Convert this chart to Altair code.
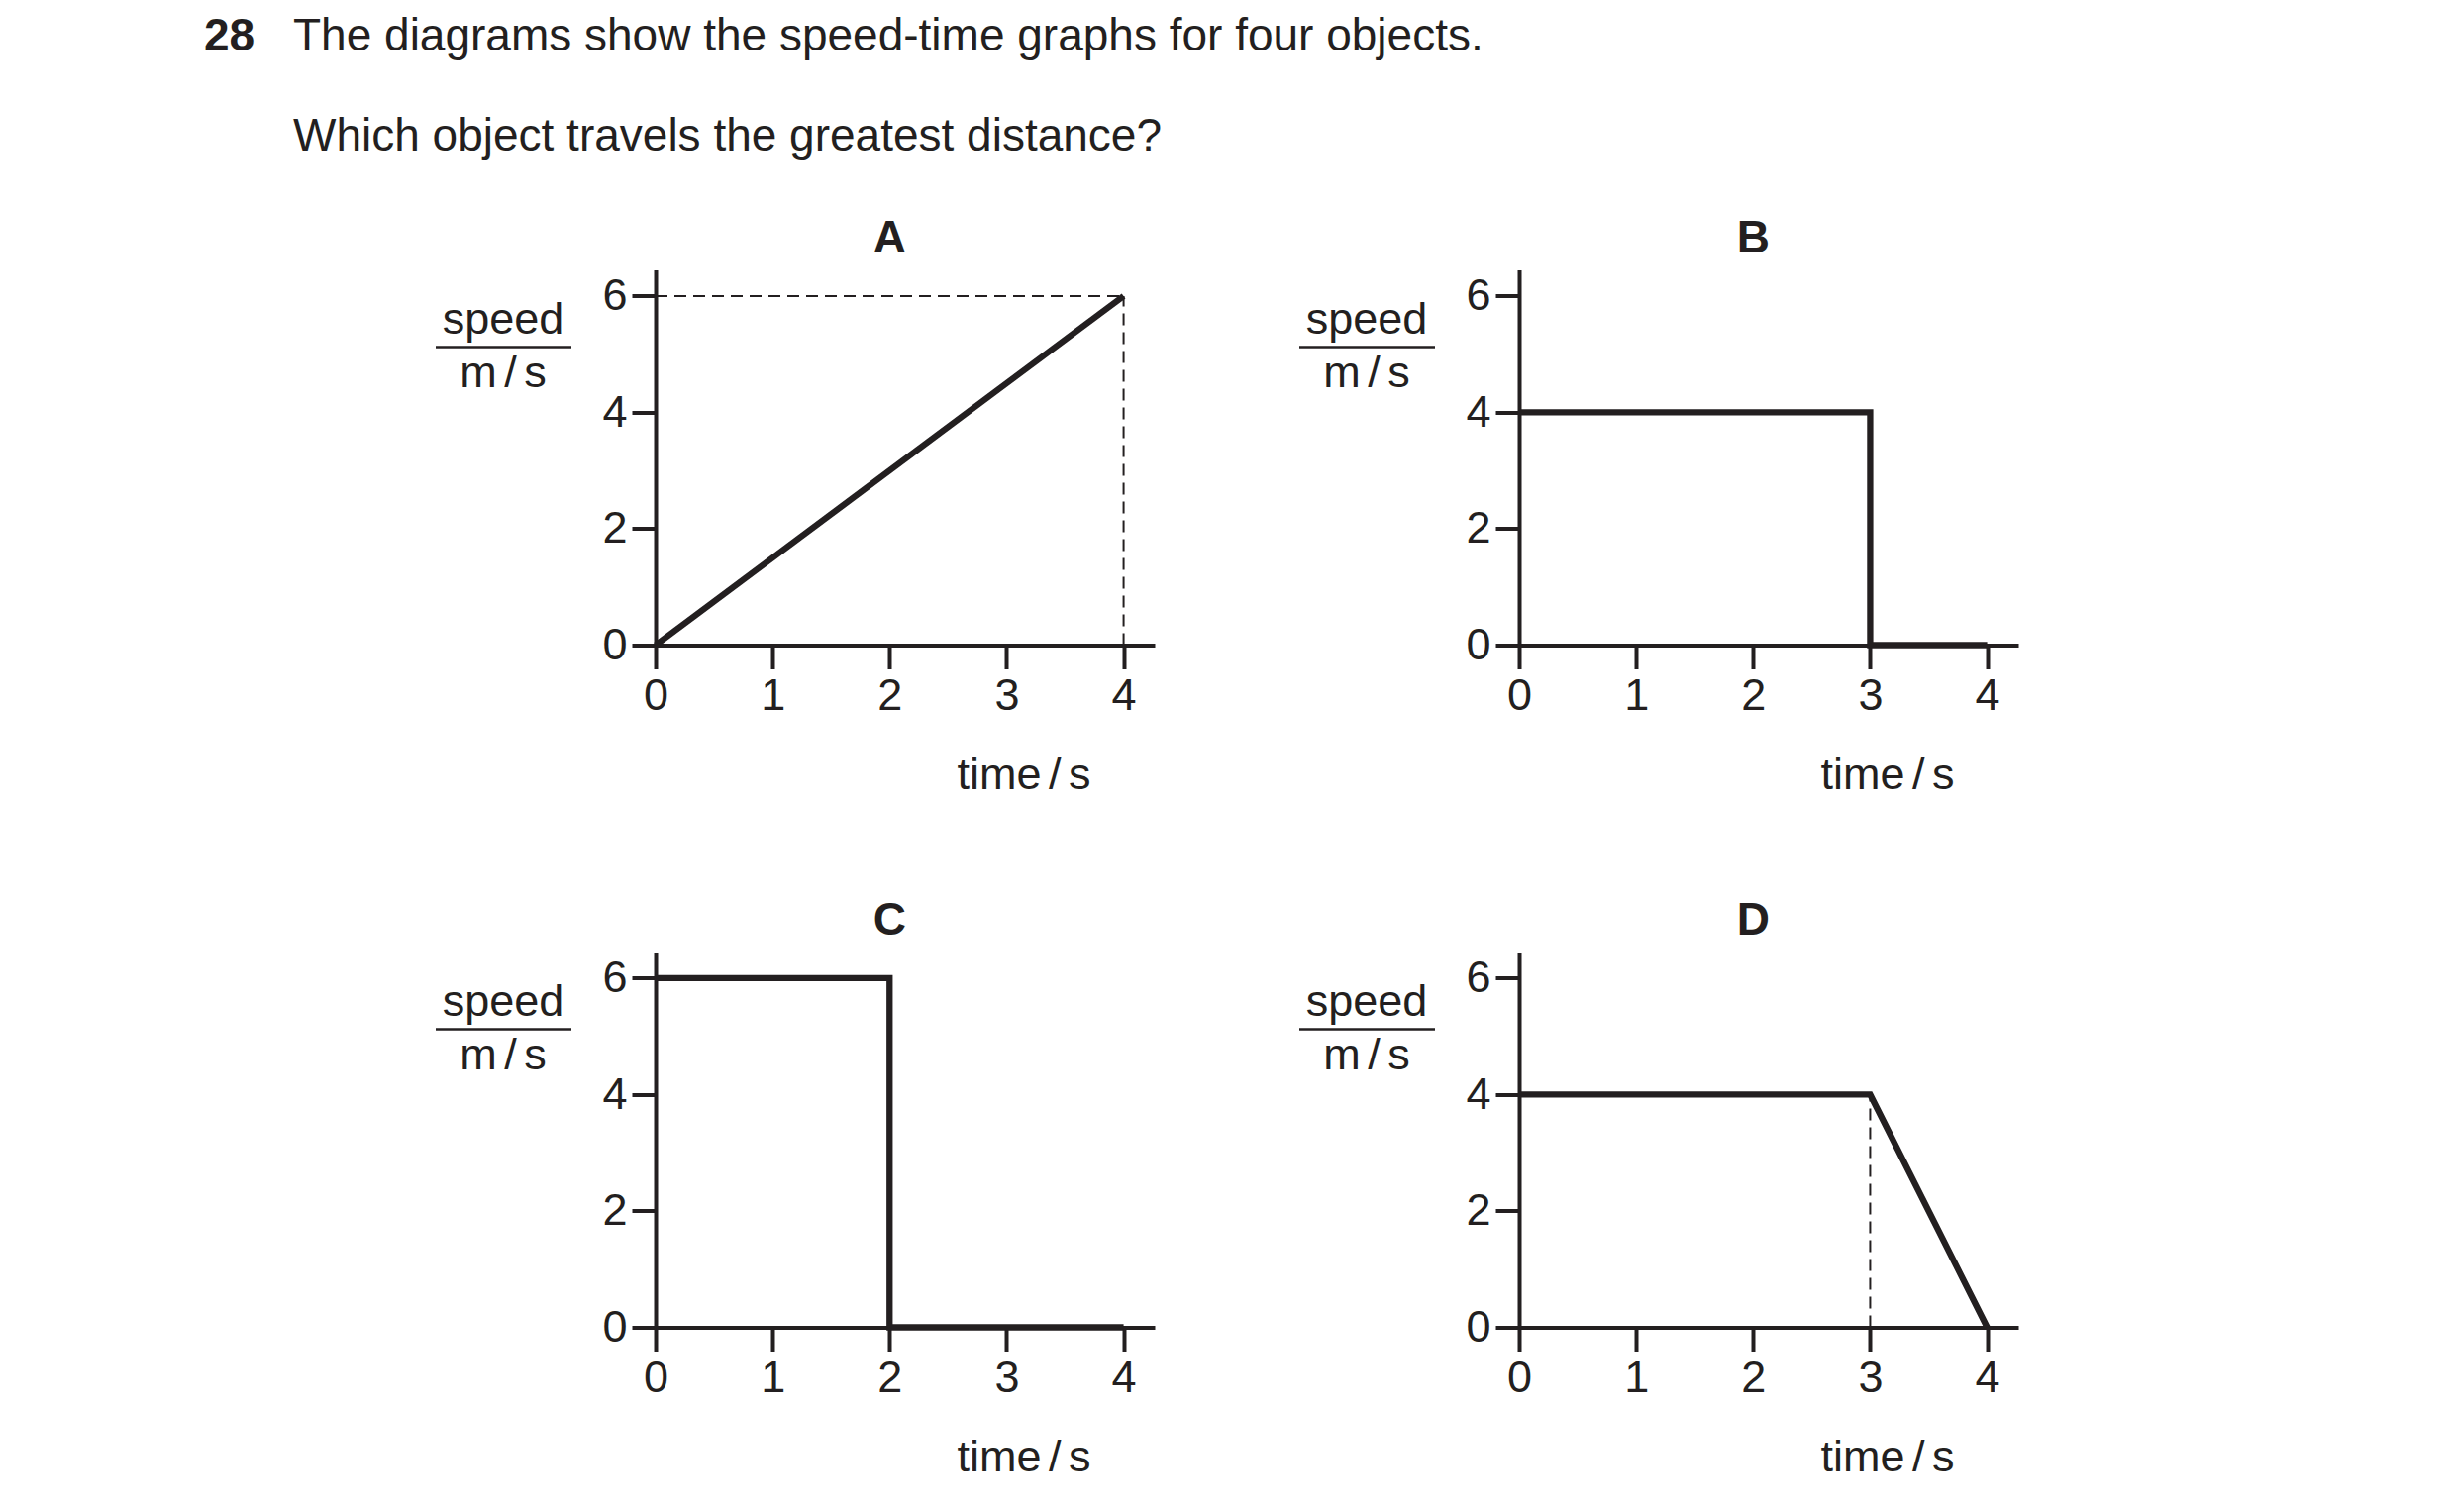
import altair as alt
import pandas as pd

FONT = "Liberation Sans, Arial, Helvetica, sans-serif"
INK = "#231f20"

# ---------------- data ----------------
question_number = "28"
question_line1 = "The diagrams show the speed-time graphs for four objects."
question_line2 = "Which object travels the greatest distance?"
panel_names = ["A", "B", "C", "D"]

time_A = [0, 4]
speed_A = [0, 6]
time_B = [0, 3, 3, 4]
speed_B = [4, 4, 0, 0]
time_C = [0, 2, 2, 4]
speed_C = [6, 6, 0, 0]
time_D = [0, 3, 4]
speed_D = [4, 4, 0]

# dashed guide lines (start time, end time, start speed, end speed)
guide_A_t = [0, 4]
guide_A_t2 = [4, 4]
guide_A_v = [6, 0]
guide_A_v2 = [6, 6]
guide_D_t = [3]
guide_D_t2 = [3]
guide_D_v = [0]
guide_D_v2 = [4]

x_ticks = [0, 1, 2, 3, 4]
y_ticks = [0, 2, 4, 6]
x_title = "time\u2006/\u2006s"
y_title = ["speed", "m\u2006/\u2006s"]

X_MAX = 4.266
Y_MAX = 6.45
W = 504
H = 379

one = pd.DataFrame({"k": [0]})


def encodings():
    xs = alt.Scale(domain=[0, X_MAX], nice=False, zero=False)
    ys = alt.Scale(domain=[0, Y_MAX], nice=False, zero=False)
    xa = alt.Axis(values=x_ticks, title=x_title, titleX=371.5, titleY=145,
                  titleAlign="center", titleBaseline="alphabetic", titleAngle=0,
                  labelPadding=5, format="d")
    ya = alt.Axis(values=y_ticks, title=y_title, titleX=-154.5, titleY=63.7,
                  titleAlign="center", titleBaseline="alphabetic", titleAngle=0,
                  titleLineHeight=54.3, labelPadding=5, format="d")
    return xs, ys, xa, ya


def panel(name, t, v, guides=None, header=False):
    xs, ys, xa, ya = encodings()
    df = pd.DataFrame({"t": t, "v": v, "i": list(range(len(t)))})
    line = alt.Chart(df).mark_line(
        color=INK, strokeWidth=6.3, strokeJoin="miter", strokeCap="butt"
    ).encode(
        x=alt.X("t:Q", scale=xs, axis=xa),
        y=alt.Y("v:Q", scale=ys, axis=ya),
        order="i:Q",
    )
    layers = []
    if guides is not None:
        g = pd.DataFrame({"t": guides[0], "t2": guides[1], "v": guides[2], "v2": guides[3]})
        layers.append(
            alt.Chart(g).mark_rule(color=INK, strokeWidth=2, strokeDash=[12, 7]).encode(
                x=alt.X("t:Q", scale=xs, axis=xa),
                x2="t2:Q",
                y=alt.Y("v:Q", scale=ys, axis=ya),
                y2="v2:Q",
            )
        )
    layers.append(line)
    # fraction bar of the speed / (m/s) label
    layers.append(
        alt.Chart(one).mark_rule(color=INK, strokeWidth=2.7).encode(
            x=alt.value(-222), x2=alt.value(-85), y=alt.value(78)
        )
    )
    # panel letter
    layers.append(
        alt.Chart(one).mark_text(
            text=name, font=FONT, fontSize=46, fontWeight="bold", color=INK,
            align="center", baseline="alphabetic"
        ).encode(x=alt.value(2 * W / X_MAX), y=alt.value(-17.5))
    )
    if header:
        layers.append(
            alt.Chart(one).mark_text(
                text=question_number, font=FONT, fontSize=46, fontWeight="bold",
                color=INK, align="left", baseline="alphabetic"
            ).encode(x=alt.value(-456), y=alt.value(-221.5))
        )
        layers.append(
            alt.Chart(one).mark_text(
                text=question_line1, font=FONT, fontSize=46, color=INK,
                align="left", baseline="alphabetic"
            ).encode(x=alt.value(-366), y=alt.value(-221.5))
        )
        layers.append(
            alt.Chart(one).mark_text(
                text=question_line2, font=FONT, fontSize=46, color=INK,
                align="left", baseline="alphabetic"
            ).encode(x=alt.value(-366), y=alt.value(-120.3))
        )
    return alt.layer(*layers).properties(width=W, height=H)


pA = panel(panel_names[0], time_A, speed_A,
           guides=(guide_A_t, guide_A_t2, guide_A_v, guide_A_v2), header=True)
pB = panel(panel_names[1], time_B, speed_B)
pC = panel(panel_names[2], time_C, speed_C)
pD = panel(panel_names[3], time_D, speed_D,
           guides=(guide_D_t, guide_D_t2, guide_D_v, guide_D_v2))

chart = alt.concat(
    pA, pB, pC, pD, columns=2,
    spacing={"row": 310, "column": 368},
    bounds="flush",
    padding={"left": 198, "top": 5.5, "right": 10, "bottom": 10},
    background="white",
).configure_view(stroke=None).configure_axis(
    domainColor=INK, domainWidth=4, tickColor=INK, tickWidth=4, tickSize=24,
    labelFont=FONT, labelFontSize=45, labelColor=INK, labelFlush=False,
    labelOverlap=False,
    titleFont=FONT, titleFontSize=45, titleFontWeight="normal", titleColor=INK,
    grid=False,
)

chart.save("out.html", embed_options={"renderer": "svg", "actions": False})
